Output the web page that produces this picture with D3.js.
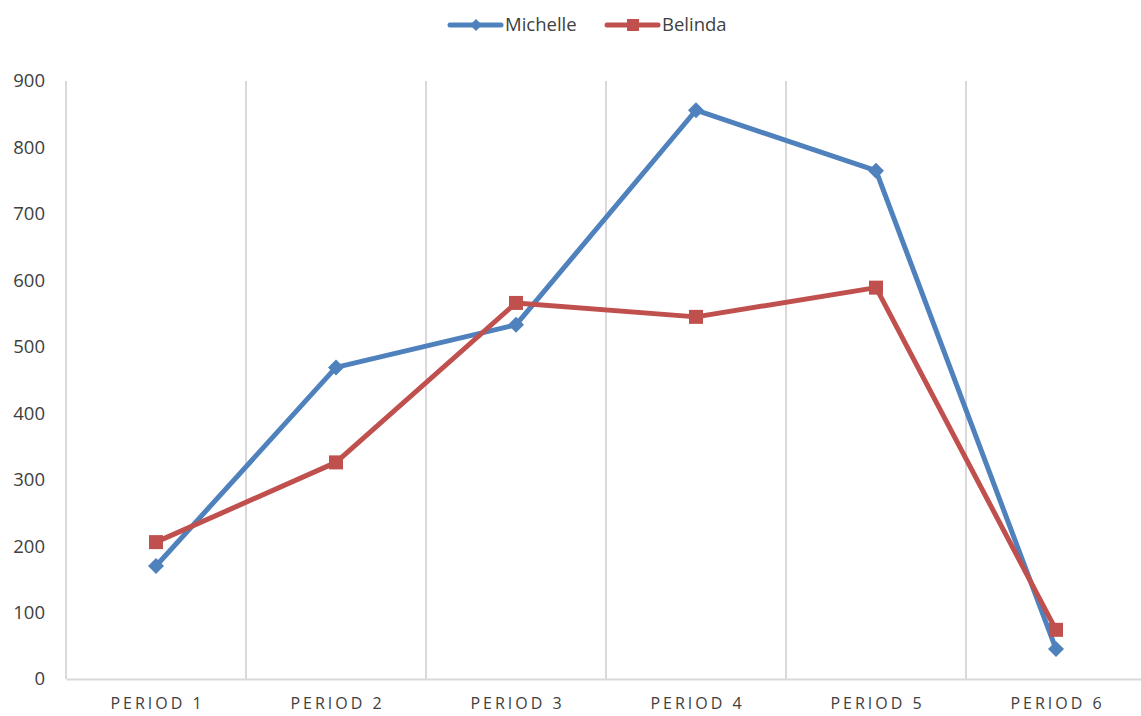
<!DOCTYPE html>
<html>
<head>
<meta charset="utf-8">
<script src="https://cdn.jsdelivr.net/npm/d3@7"></script>
<style>
  body { margin: 0; background: #fff; }
  text { font-family: "Open Sans", "Liberation Sans", sans-serif; fill: #404040; }
</style>
</head>
<body>
<div class="chart"></div>
<script>
// chart data
const periods = ["PERIOD 1", "PERIOD 2", "PERIOD 3", "PERIOD 4", "PERIOD 5", "PERIOD 6"];
const michelle = [170, 469, 533, 856, 765, 45];
const belinda = [206, 326, 566, 545, 589, 74];
const yTicks = [0, 100, 200, 300, 400, 500, 600, 700, 800, 900];

const width = 1141, height = 716;
const margin = { top: 81, right: -5, bottom: 37, left: 66 };

const svg = d3.select(".chart").append("svg")
  .attr("width", width)
  .attr("height", height);

const x = d3.scaleBand()
  .domain(periods)
  .range([margin.left, width - margin.right]);

const y = d3.scaleLinear()
  .domain([0, 900])
  .range([height - margin.bottom, margin.top]);

//vertical gridlines at band edges
svg.append("g")
  .selectAll("line")
  .data(periods)
  .join("line")
  .attr("x1", d => x(d))
  .attr("x2", d => x(d))
  .attr("y1", y(0))
  .attr("y2", y(900))
  .attr("stroke", "#d9d9d9")
  .attr("stroke-width", 2);

//x axis
const xAxis = svg.append("g")
  .attr("transform", "translate(0," + y(0) + ")")
  .call(d3.axisBottom(x).tickSize(0).tickPadding(19));
xAxis.select(".domain").attr("stroke", "#d9d9d9").attr("stroke-width", 2);
xAxis.selectAll("text")
  .style("font-size", "16px")
  .style("letter-spacing", "3px")
  .attr("dx", "1.5px")
  .attr("fill", "#404040");

//y axis labels
const yAxis = svg.append("g")
  .attr("transform", "translate(" + (margin.left - 21) + ",0)")
  .call(d3.axisLeft(y).tickValues(yTicks).tickSize(0).tickPadding(0));
yAxis.select(".domain").remove();
yAxis.selectAll("text")
  .style("font-size", "18.5px")
  .attr("fill", "#404040");

const series = [
  { name: "Michelle", values: michelle, color: "#4f81bd", shape: "diamond" },
  { name: "Belinda", values: belinda, color: "#c0504d", shape: "square" }
];

const line = d3.line()
  .x((d, i) => x(periods[i]) + x.bandwidth() / 2)
  .y(d => y(d));

function marker(sel, s) {
  if (s.shape === "diamond") {
    sel.append("path")
      .attr("d", "M0,-8L8,0L0,8L-8,0Z")
      .attr("fill", s.color);
  } else {
    sel.append("rect")
      .attr("x", -7).attr("y", -7)
      .attr("width", 14).attr("height", 14)
      .attr("fill", s.color);
  }
}

series.forEach(s => {
  svg.append("path")
    .datum(s.values)
    .attr("d", line)
    .attr("fill", "none")
    .attr("stroke", s.color)
    .attr("stroke-width", 5)
    .attr("stroke-linejoin", "round");

  s.values.forEach((v, i) => {
    svg.append("g")
      .attr("transform", "translate(" + (x(periods[i]) + x.bandwidth() / 2) + "," + y(v) + ")")
      .call(marker, s);
  });
});

//legend
const legendX = [450, 607];
series.forEach((s, i) => {
  const g = svg.append("g").attr("transform", "translate(" + legendX[i] + ",25)");
  g.append("line")
    .attr("x1", 0).attr("x2", 51)
    .attr("stroke", s.color)
    .attr("stroke-width", 5)
    .attr("stroke-linecap", "round");
  const m = g.append("g").attr("transform", "translate(26,0)");
  if (s.shape === "diamond") {
    m.append("path").attr("d", "M0,-6L6,0L0,6L-6,0Z").attr("fill", s.color);
  } else {
    m.append("rect").attr("x", -6).attr("y", -6).attr("width", 12).attr("height", 12).attr("fill", s.color);
  }
  g.append("text")
    .attr("x", 55)
    .attr("dy", "0.35em")
    .style("font-size", "18.5px")
    .text(s.name);
});
</script>
</body>
</html>
